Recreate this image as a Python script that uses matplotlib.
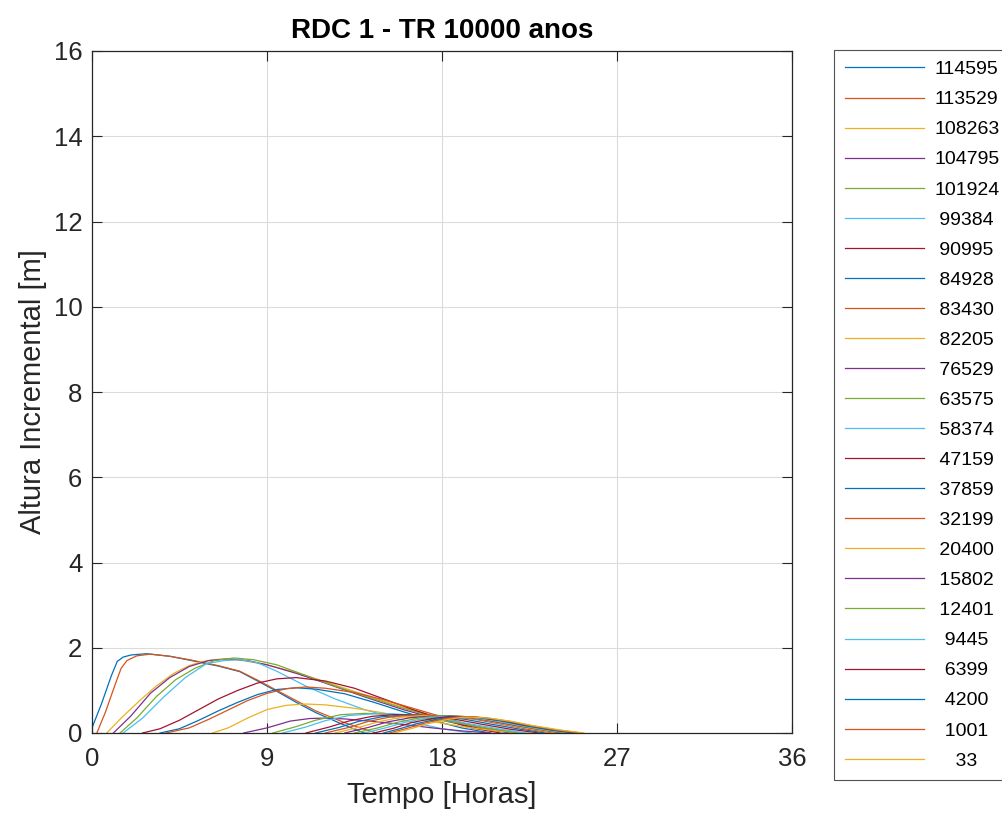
import matplotlib
matplotlib.use("Agg")
import matplotlib.pyplot as plt

plt.rcParams['font.family'] = ['Liberation Sans', 'DejaVu Sans']

# ---- data ----
labels = ['114595', '113529', '108263', '104795', '101924', ' 99384', ' 90995', ' 84928',
          ' 83430', ' 82205', ' 76529', ' 63575', ' 58374', ' 47159', ' 37859', ' 32199',
          ' 20400', ' 15802', ' 12401', '  9445', '  6399', '  4200', '  1001', '    33']

t01 = [0, 0.5, 1.0, 1.3, 1.6, 2.0, 2.8, 4.0, 5.0, 6.5, 7.6, 8.6, 9.5, 10.5, 11.5, 12.8, 14.0]
h01 = [0.12, 0.7, 1.35, 1.68, 1.78, 1.83, 1.86, 1.80, 1.71, 1.57, 1.44, 1.20, 0.98, 0.72, 0.48, 0.22, 0]
t02 = [0.25, 0.7, 1.2, 1.5, 1.8, 2.3, 3.0, 4.0, 5.0, 6.5, 7.6, 8.6, 9.5, 10.5, 11.5, 13.0, 14.6]
h02 = [0, 0.5, 1.15, 1.52, 1.70, 1.81, 1.85, 1.80, 1.72, 1.58, 1.45, 1.22, 1.00, 0.76, 0.52, 0.24, 0]
t03 = [0.76, 1.5, 2.5, 3.3, 4.2, 5.0, 5.6, 6.5, 7.5, 9.0, 10.5, 12.0, 14.0, 16.0, 18.0, 20.0, 22.0]
h03 = [0, 0.35, 0.78, 1.10, 1.40, 1.58, 1.67, 1.73, 1.72, 1.60, 1.42, 1.20, 0.90, 0.60, 0.33, 0.12, 0]
t04 = [1.1, 2.0, 3.0, 4.0, 5.0, 6.0, 7.0, 8.0, 9.0, 10.5, 12.0, 14.0, 16.0, 18.0, 20.0, 21.5]
h04 = [0, 0.40, 0.93, 1.30, 1.56, 1.70, 1.74, 1.70, 1.60, 1.40, 1.17, 0.85, 0.55, 0.30, 0.10, 0]
t05 = [1.44, 2.3, 3.3, 4.3, 5.3, 6.3, 7.3, 8.3, 9.5, 11.0, 12.5, 14.0, 16.0, 18.0, 20.0, 22.0]
h05 = [0, 0.35, 0.85, 1.25, 1.52, 1.70, 1.76, 1.72, 1.60, 1.35, 1.10, 0.87, 0.58, 0.33, 0.13, 0]
t06 = [1.6, 2.6, 3.7, 4.8, 5.9, 6.8, 7.6, 8.5, 9.5, 11.0, 12.5, 14.0, 16.0, 18.0, 19.5]
h06 = [0, 0.35, 0.85, 1.30, 1.63, 1.70, 1.72, 1.65, 1.45, 1.10, 0.80, 0.55, 0.30, 0.10, 0]
t07 = [2.6, 3.5, 4.5, 5.5, 6.5, 7.5, 8.5, 9.5, 10.5, 12.0, 13.5, 15.0, 16.5, 18.0, 19.5, 21.0]
h07 = [0, 0.10, 0.30, 0.55, 0.80, 1.00, 1.17, 1.27, 1.30, 1.22, 1.05, 0.80, 0.55, 0.33, 0.12, 0]
t08 = [3.5, 4.5, 5.5, 6.5, 7.5, 8.5, 9.5, 10.5, 11.5, 13.0, 14.5, 16.0, 17.5, 19.0, 20.5]
h08 = [0, 0.10, 0.30, 0.52, 0.72, 0.90, 1.02, 1.06, 1.03, 0.92, 0.72, 0.50, 0.30, 0.12, 0]
t09 = [3.8, 5.0, 6.0, 7.0, 8.0, 9.0, 10.0, 11.0, 12.0, 13.5, 15.0, 16.5, 18.0, 19.5, 21.0, 22.0]
h09 = [0, 0.12, 0.32, 0.54, 0.76, 0.93, 1.04, 1.08, 1.05, 0.95, 0.78, 0.58, 0.38, 0.18, 0.05, 0]
t10 = [6.2, 7.0, 8.0, 9.0, 10.0, 11.0, 12.0, 13.5, 15.0, 16.5, 18.0, 19.5, 21.0, 22.5]
h10 = [0, 0.12, 0.35, 0.55, 0.65, 0.68, 0.66, 0.58, 0.47, 0.35, 0.23, 0.12, 0.04, 0]
t11 = [7.8, 9.0, 10.2, 11.2, 12.0, 13.0, 14.5, 16.0, 17.5, 19.0, 20.5]
h11 = [0, 0.12, 0.28, 0.34, 0.35, 0.33, 0.27, 0.20, 0.12, 0.05, 0]
t12 = [9.3, 10.5, 11.5, 12.8, 14.0, 15.0, 16.0, 17.5, 19.0, 20.5, 22.0]
h12 = [0, 0.15, 0.30, 0.43, 0.46, 0.45, 0.42, 0.33, 0.22, 0.10, 0]
t13 = [9.8, 11.0, 12.0, 13.2, 14.5, 15.5, 16.5, 18.0, 19.5, 21.0, 22.3]
h13 = [0, 0.14, 0.29, 0.41, 0.45, 0.45, 0.42, 0.33, 0.21, 0.09, 0]
t14 = [11.0, 12.2, 13.2, 14.4, 15.5, 16.3, 17.3, 18.7, 20.0, 21.5, 23.0]
h14 = [0, 0.14, 0.28, 0.39, 0.43, 0.43, 0.41, 0.32, 0.21, 0.09, 0]
t15 = [11.5, 12.7, 13.7, 14.9, 16.0, 16.8, 17.8, 19.2, 20.5, 22.0, 23.3]
h15 = [0, 0.13, 0.27, 0.38, 0.42, 0.42, 0.40, 0.32, 0.21, 0.09, 0]
t16 = [12.0, 13.2, 14.2, 15.4, 16.5, 17.3, 18.3, 19.7, 21.0, 22.4, 23.7]
h16 = [0, 0.13, 0.27, 0.38, 0.42, 0.42, 0.40, 0.32, 0.21, 0.09, 0]
t17 = [12.5, 13.7, 14.7, 15.9, 17.0, 17.8, 18.8, 20.1, 21.3, 22.7, 24.0]
h17 = [0, 0.13, 0.26, 0.37, 0.41, 0.41, 0.39, 0.31, 0.20, 0.09, 0]
t18 = [13.0, 14.2, 15.2, 16.4, 17.5, 18.2, 19.1, 20.3, 21.5, 22.9, 24.2]
h18 = [0, 0.13, 0.26, 0.36, 0.40, 0.40, 0.38, 0.30, 0.20, 0.09, 0]
t19 = [13.5, 14.7, 15.7, 16.8, 17.8, 18.4, 19.3, 20.5, 21.7, 23.1, 24.4]
h19 = [0, 0.12, 0.25, 0.35, 0.40, 0.40, 0.38, 0.30, 0.20, 0.08, 0]
t20 = [14.0, 15.1, 16.1, 17.2, 18.1, 18.7, 19.5, 20.7, 21.9, 23.3, 24.6]
h20 = [0, 0.12, 0.25, 0.35, 0.39, 0.39, 0.37, 0.29, 0.19, 0.08, 0]
t21 = [14.5, 15.5, 16.4, 17.5, 18.4, 19.0, 19.8, 21.0, 22.1, 23.5, 24.8]
h21 = [0, 0.11, 0.24, 0.34, 0.39, 0.39, 0.37, 0.29, 0.19, 0.08, 0]
t22 = [15.0, 15.9, 16.8, 17.8, 18.7, 19.2, 20.0, 21.2, 22.3, 23.7, 25.0]
h22 = [0, 0.11, 0.23, 0.33, 0.38, 0.38, 0.36, 0.28, 0.18, 0.07, 0]
t23 = [15.3, 16.2, 17.1, 18.1, 18.9, 19.4, 20.2, 21.4, 22.5, 23.9, 25.2]
h23 = [0, 0.11, 0.23, 0.33, 0.38, 0.38, 0.36, 0.28, 0.18, 0.07, 0]
t24 = [15.5, 16.4, 17.3, 18.3, 19.1, 19.6, 20.4, 21.6, 22.7, 24.1, 25.3]
h24 = [0, 0.10, 0.22, 0.32, 0.37, 0.37, 0.35, 0.27, 0.17, 0.07, 0]

times = [t01, t02, t03, t04, t05, t06, t07, t08, t09, t10, t11, t12,
         t13, t14, t15, t16, t17, t18, t19, t20, t21, t22, t23, t24]
heights = [h01, h02, h03, h04, h05, h06, h07, h08, h09, h10, h11, h12,
           h13, h14, h15, h16, h17, h18, h19, h20, h21, h22, h23, h24]

xticks = [0, 9, 18, 27, 36]
yticks = [0, 2, 4, 6, 8, 10, 12, 14, 16]

matlab_colors = [(0, 0.447, 0.741), (0.850, 0.325, 0.098), (0.929, 0.694, 0.125),
                 (0.494, 0.184, 0.556), (0.466, 0.674, 0.188), (0.301, 0.745, 0.933),
                 (0.635, 0.078, 0.184)]

# ---- figure ----
fig = plt.figure(figsize=(10.03, 8.18), dpi=100)
ax = fig.add_axes([92 / 1003, 1 - 733 / 818, 700 / 1003, 682 / 818])

lines = []
for i, (t, h) in enumerate(zip(times, heights)):
    ln, = ax.plot(t, h, color=matlab_colors[i % 7], lw=0.9)
    lines.append(ln)

dark = (0.15, 0.15, 0.15)
ax.set_xlim(0, 36)
ax.set_ylim(0, 16)
ax.set_xticks(xticks)
ax.set_yticks(yticks)
ax.grid(True, color=(0.86, 0.86, 0.86), lw=0.8)
ax.set_axisbelow(True)
ax.tick_params(direction='in', length=7, width=0.8, top=True, right=True,
               labelsize=18.5, colors=dark, pad=7)
ax.tick_params(axis='x', pad=10)
for sp in ax.spines.values():
    sp.set_color(dark)
    sp.set_linewidth(0.9)

ax.set_title('RDC 1 - TR 10000 anos', fontsize=20, fontweight='bold', pad=9)
ax.set_xlabel('Tempo [Horas]', fontsize=21, color=dark, labelpad=7)
ax.set_ylabel('Altura Incremental [m]', fontsize=21, color=dark, labelpad=5)

leg = fig.legend(lines, labels, loc='upper left',
                 bbox_to_anchor=(834 / 1003, 1 - 50 / 818), bbox_transform=fig.transFigure,
                 fontsize=14, frameon=True, fancybox=False, handlelength=4.1,
                 handletextpad=0.5, labelspacing=0.64, borderpad=0.55, borderaxespad=0)
leg.get_frame().set_edgecolor(dark)
leg.get_frame().set_linewidth(0.8)

fig.savefig('out.png', dpi=100)
